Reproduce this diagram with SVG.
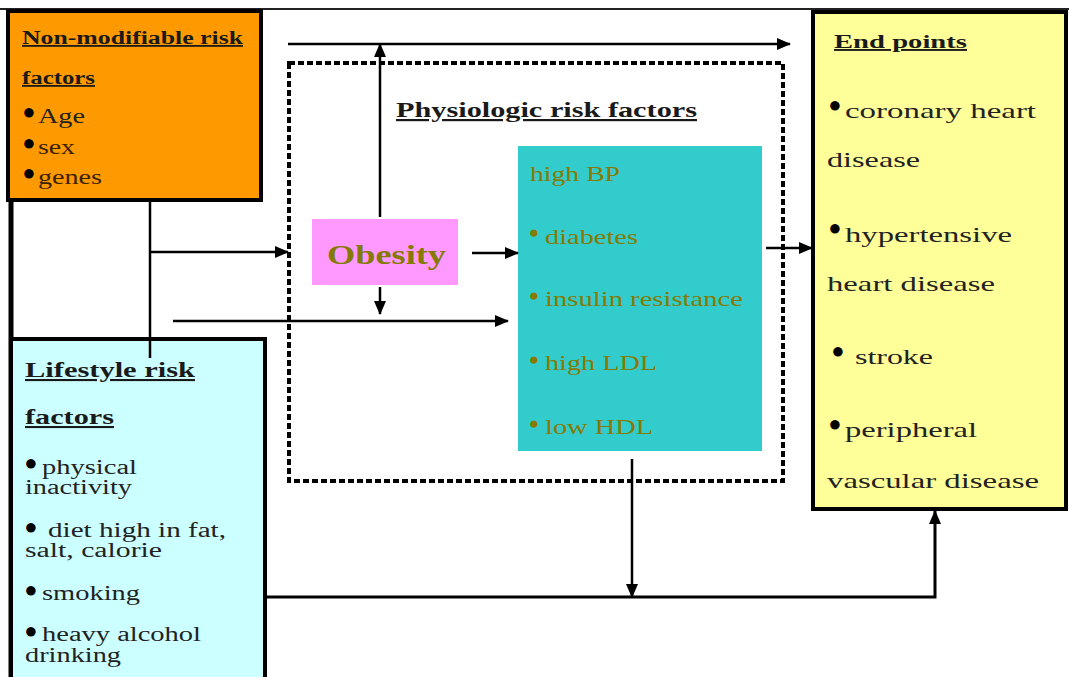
<svg xmlns="http://www.w3.org/2000/svg" width="1069" height="677" viewBox="0 0 1069 677" font-family="'Liberation Serif', 'Times New Roman', Tinos, serif">
  <style>
    text { font-family: "Liberation Serif", "Times New Roman", Tinos, serif; }
    .head { font-weight: bold; text-decoration: underline; fill: #1a1a1a; }
    .item { fill: #222; }
    .olive { fill: #857a05; }
    .dot { font-size: 22px; text-anchor: middle; fill: #000; }
    .dot-sm { font-size: 17px; text-anchor: middle; }
    .box { stroke: #000; stroke-width: 4; }
    .wire { fill: none; stroke: #000; stroke-width: 2.5; }
  </style>
  <defs>
    <marker id="arrow" markerUnits="userSpaceOnUse" markerWidth="14" markerHeight="12" refX="13" refY="6" orient="auto">
      <path d="M0,0 L14,6 L0,12 Z" fill="#000"/>
    </marker>
  </defs>

  <rect width="1069" height="677" fill="#fff"/>

  <!-- outer frame -->
  <g id="frame">
    <line x1="0" y1="9" x2="1069" y2="9" stroke="#222" stroke-width="2"/>
    <line x1="11" y1="10" x2="11" y2="677" stroke="#000" stroke-width="5"/>
  </g>

  <!-- physiologic group boundary -->
  <g id="physiologic">
    <rect x="289" y="63" width="494" height="418" fill="none" stroke="#000" stroke-width="4" stroke-dasharray="6 3"/>
    <text class="head" x="396" y="117" font-size="22" textLength="301" lengthAdjust="spacingAndGlyphs">Physiologic risk factors</text>
  </g>

  <!-- non-modifiable risk factors (raised bullet + word share one text element) -->
  <g id="nonmodifiable">
    <rect class="box" x="8" y="11" width="253" height="189" fill="#ff9900"/>
    <text class="head" x="22" y="44" font-size="18" textLength="221" lengthAdjust="spacingAndGlyphs">Non-modifiable risk</text>
    <text class="head" x="22" y="84" font-size="18" textLength="73" lengthAdjust="spacingAndGlyphs">factors</text>
    <g class="item" font-size="20">
      <text y="123"><tspan class="dot" x="29" dy="-4">●</tspan><tspan x="38" dy="4" textLength="47" lengthAdjust="spacingAndGlyphs">Age</tspan></text>
      <text y="154"><tspan class="dot" x="29" dy="-4">●</tspan><tspan x="38" dy="4" fill="#3a2200" textLength="37" lengthAdjust="spacingAndGlyphs">sex</tspan></text>
      <text y="184"><tspan class="dot" x="29" dy="-4">●</tspan><tspan x="38" dy="4" fill="#3a2200" textLength="64" lengthAdjust="spacingAndGlyphs">genes</tspan></text>
    </g>
  </g>

  <!-- lifestyle risk factors -->
  <g id="lifestyle">
    <rect class="box" x="11" y="339" width="254" height="345" fill="#ccffff"/>
    <text class="head" x="25" y="377" font-size="21" fill="#222" textLength="170" lengthAdjust="spacingAndGlyphs">Lifestyle risk</text>
    <text class="head" x="25" y="424" font-size="21" fill="#222" textLength="89" lengthAdjust="spacingAndGlyphs">factors</text>
    <g class="item" font-size="20" fill="#333">
      <text y="474"><tspan class="dot" x="31" dy="-4">●</tspan><tspan x="42" dy="4" textLength="95" lengthAdjust="spacingAndGlyphs">physical</tspan></text>
      <text x="25" y="494" textLength="107" lengthAdjust="spacingAndGlyphs">inactivity</text>
      <text y="537"><tspan class="dot" x="31" dy="-3">●</tspan><tspan x="48" dy="3" textLength="178" lengthAdjust="spacingAndGlyphs">diet high in fat,</tspan></text>
      <text x="25" y="557" textLength="137" lengthAdjust="spacingAndGlyphs">salt, calorie</text>
      <text y="600"><tspan class="dot" x="31" dy="-3">●</tspan><tspan x="42" dy="3" textLength="98" lengthAdjust="spacingAndGlyphs">smoking</tspan></text>
      <text y="641"><tspan class="dot" x="31" dy="-3">●</tspan><tspan x="42" dy="3" textLength="159" lengthAdjust="spacingAndGlyphs">heavy alcohol</tspan></text>
      <text x="25" y="662" textLength="96" lengthAdjust="spacingAndGlyphs">drinking</text>
    </g>
  </g>

  <!-- obesity -->
  <g id="obesity">
    <rect x="312" y="219" width="146" height="66" fill="#ff99ff"/>
    <text x="327" y="264" font-size="27" font-weight="bold" class="olive" textLength="119" lengthAdjust="spacingAndGlyphs">Obesity</text>
  </g>

  <!-- physiologic risk factor list -->
  <g id="physiologic-list">
    <rect x="518" y="146" width="244" height="305" fill="#33cccc"/>
    <g class="olive" font-size="21">
      <text x="530" y="181" textLength="90" lengthAdjust="spacingAndGlyphs">high BP</text>
      <text y="244"><tspan class="dot-sm" x="534" dy="-6">●</tspan><tspan x="545" dy="6" textLength="93" lengthAdjust="spacingAndGlyphs">diabetes</tspan></text>
      <text y="306"><tspan class="dot-sm" x="534" dy="-5">●</tspan><tspan x="545" dy="5" textLength="198" lengthAdjust="spacingAndGlyphs">insulin resistance</tspan></text>
      <text y="370"><tspan class="dot-sm" x="534" dy="-5">●</tspan><tspan x="545" dy="5" textLength="112" lengthAdjust="spacingAndGlyphs">high LDL</tspan></text>
      <text y="434"><tspan class="dot-sm" x="534" dy="-5">●</tspan><tspan x="545" dy="5" textLength="108" lengthAdjust="spacingAndGlyphs">low HDL</tspan></text>
    </g>
  </g>

  <!-- end points -->
  <g id="endpoints">
    <rect class="box" x="813" y="12" width="253" height="497" fill="#ffff99"/>
    <text class="head" x="834" y="48" font-size="19" textLength="133" lengthAdjust="spacingAndGlyphs">End points</text>
    <g class="item" font-size="22" fill="#1a1a1a">
      <text y="118"><tspan class="dot" x="835" dy="-6">●</tspan><tspan x="845" dy="6" textLength="191" lengthAdjust="spacingAndGlyphs">coronary heart</tspan></text>
      <text x="827" y="167" textLength="93" lengthAdjust="spacingAndGlyphs">disease</text>
      <text y="242"><tspan class="dot" x="835" dy="-7">●</tspan><tspan x="845" dy="7" textLength="167" lengthAdjust="spacingAndGlyphs">hypertensive</tspan></text>
      <text x="827" y="291" textLength="168" lengthAdjust="spacingAndGlyphs">heart disease</text>
      <text y="364"><tspan class="dot" x="838" dy="-6">●</tspan><tspan x="855" dy="6" textLength="78" lengthAdjust="spacingAndGlyphs">stroke</tspan></text>
      <text y="437"><tspan class="dot" x="835" dy="-6">●</tspan><tspan x="845" dy="6" textLength="132" lengthAdjust="spacingAndGlyphs">peripheral</tspan></text>
      <text x="827" y="488" textLength="212" lengthAdjust="spacingAndGlyphs">vascular disease</text>
    </g>
  </g>

  <!-- connectors -->
  <g id="connectors" class="wire">
    <line x1="150" y1="202" x2="150" y2="358"/>
    <line x1="150" y1="252" x2="288" y2="252" marker-end="url(#arrow)"/>
    <line x1="173" y1="321" x2="508" y2="321" marker-end="url(#arrow)"/>
    <line x1="288" y1="44" x2="790" y2="44" marker-end="url(#arrow)"/>
    <line x1="380" y1="217" x2="380" y2="44" marker-end="url(#arrow)"/>
    <line x1="380" y1="287" x2="380" y2="314" marker-end="url(#arrow)"/>
    <line x1="472" y1="253" x2="518" y2="253" marker-end="url(#arrow)"/>
    <line x1="766" y1="248" x2="812" y2="248" marker-end="url(#arrow)"/>
    <line x1="632" y1="459" x2="632" y2="597" marker-end="url(#arrow)"/>
    <polyline points="267,597 935,597 935,511" stroke-width="3" marker-end="url(#arrow)"/>
  </g>
</svg>
